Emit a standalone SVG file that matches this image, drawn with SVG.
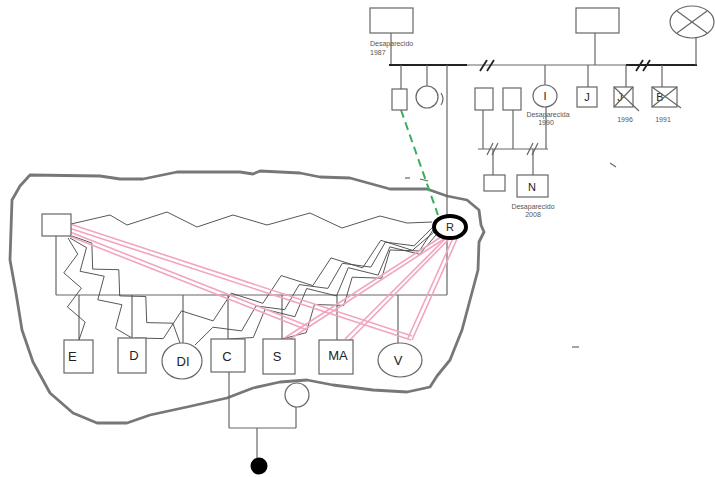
<svg xmlns="http://www.w3.org/2000/svg" width="715" height="477" viewBox="0 0 715 477">
<style>
.ln{stroke:#666;stroke-width:1.2;fill:none}
.bk{stroke:#222;stroke-width:1.8;fill:none}
.nd{stroke:#666;stroke-width:1.2;fill:#fff}
.zz{stroke:#444;stroke-width:0.9;fill:none;stroke-linejoin:miter}
.pk{stroke:#f2a5be;stroke-width:1.6;fill:none}
.sm{font-family:"Liberation Sans",Arial,sans-serif;font-size:7px;fill:#555}
.lb{font-family:"Liberation Sans",Arial,sans-serif;font-size:13px;fill:#222}
.lt{font-family:"Liberation Sans",Arial,sans-serif;font-size:11px;fill:#222}
.blob{stroke:#777;stroke-width:2.8;fill:none;stroke-linejoin:round}
</style>
<rect width="715" height="477" fill="#fff"/>

<!-- household outline -->
<path class="blob" d="M30 175 L100 176 L120 179 L143 179 L177 172 L240 172 L253 174 L260 171 L300 173 L320 177 L350 178 L390 189 L427 189 L447 196 L467 200 L479 210 L481 225 L484 232 L479 242 L478 270 L470 300 L462 330 L450 360 L437 376 L430 387 L407 392 L373 390 L333 385 L307 380 L280 382 L253 388 L227 398 L187 407 L150 415 L127 423 L97 423 L73 413 L50 393 L33 362 L22 330 L16 293 L10 260 L12 200 L20 186 Z"/>

<g id="connectors">
  <!-- top family -->
  <line class="ln" x1="391" y1="33" x2="391" y2="65"/>
  <line class="bk" x1="389" y1="65" x2="467" y2="65"/>
  <line class="ln" x1="467" y1="65" x2="626" y2="65"/>
  <line class="bk" x1="626" y1="65" x2="697" y2="65"/>
  <path class="bk" d="M480 71 L487 60 M487 71 L494 60"/>
  <path class="bk" d="M636 71 L643 60 M643 71 L650 60"/>
  <line class="ln" x1="401" y1="65" x2="401" y2="89"/>
  <line class="ln" x1="427" y1="65" x2="427" y2="87"/>
  <line class="ln" x1="447" y1="65" x2="447" y2="216"/>
  <line class="ln" x1="545" y1="65" x2="545" y2="85"/>
  <line class="ln" x1="595" y1="33" x2="595" y2="65"/>
  <line class="ln" x1="588" y1="65" x2="588" y2="87"/>
  <line class="ln" x1="626" y1="65" x2="626" y2="87"/>
  <line class="ln" x1="662" y1="65" x2="662" y2="87"/>
  <line class="ln" x1="696" y1="38" x2="696" y2="65"/>
  <!-- middle lower family -->
  <line class="ln" x1="483" y1="110" x2="483" y2="149"/>
  <line class="ln" x1="513" y1="110" x2="513" y2="149"/>
  <line class="ln" x1="546" y1="106" x2="546" y2="149"/>
  <line class="ln" x1="478" y1="149" x2="548" y2="149"/>
  <path class="ln" d="M487 155 L493 143 M492 155 L498 143"/>
  <path class="ln" d="M527 155 L533 143 M532 155 L538 143"/>
  <line class="ln" x1="493" y1="149" x2="493" y2="175"/>
  <line class="ln" x1="533" y1="149" x2="533" y2="175"/>
  <!-- green dashed -->
  <line x1="401" y1="110" x2="438" y2="215" stroke="#3aae5e" stroke-width="2" stroke-dasharray="8 5"/>
  <!-- household -->
  <line class="ln" x1="56" y1="236" x2="56" y2="295"/>
  <line class="ln" x1="56" y1="295" x2="447" y2="295"/>
  <line class="ln" x1="447" y1="238" x2="447" y2="295"/>
  <line class="ln" x1="79" y1="295" x2="79" y2="340"/>
  <line class="ln" x1="132" y1="295" x2="132" y2="338"/>
  <line class="ln" x1="183" y1="295" x2="183" y2="343"/>
  <line class="ln" x1="228" y1="295" x2="228" y2="339"/>
  <line class="ln" x1="282" y1="295" x2="282" y2="339"/>
  <line class="ln" x1="337" y1="295" x2="337" y2="340"/>
  <line class="ln" x1="398" y1="295" x2="398" y2="343"/>
  <!-- C family -->
  <line class="ln" x1="229" y1="372" x2="229" y2="428"/>
  <line class="ln" x1="229" y1="428" x2="296" y2="428"/>
  <line class="ln" x1="296" y1="407" x2="296" y2="428"/>
  <line class="ln" x1="257" y1="428" x2="257" y2="460"/>
  <!-- zigzag relations -->
  <polyline class="zz" points="71,224 110,215 127,225 167,212 197,227 233,215 267,225 310,213 342,228 380,216 407,223 432,222"/>
  <polyline class="zz" points="68,238 77.7,254.1 63.8,272.9 81.4,288.1 67.4,306.9 85.1,322.1 79,340"/>
  <polyline class="zz" points="70,238 86.5,247.6 80.1,271.3 104.2,276.2 97.8,299.8 121.9,304.7 115.5,328.4 132,338"/>
  <polyline class="zz" points="72,236 91.8,243 92.7,269.1 118.8,269.7 119.7,295.9 145.8,296.5 146.7,322.6 172.8,323.2 180,343"/>
  <polyline class="zz" points="436,235 419.7,254.3 389.9,246.9 378.1,275.1 348.3,267.7 336.5,295.9 306.7,288.5 294.9,316.7 265.1,309.3 253.3,337.5 228,339"/>
  <polyline class="zz" points="434,232 412.4,250.3 380.8,240.3 362.6,267.9 331,257.9 312.8,285.6 281.2,275.6 262.9,303.3 231.3,293.2 213.1,320.9 181.5,310.9 163.3,338.6 135,338"/>
  <polyline class="zz" points="433,230 419.4,250.9 390,250 381.7,278.2 352.2,277.2 343.9,305.4 314.5,304.5 306.2,332.7 282,339"/>
  <polyline class="zz" points="432,228 414,245.8 385.4,242.1 370.9,267.1 342.3,263.3 327.8,288.4 299.2,284.6 284.7,309.7 256.1,305.9 241.6,330.9 213,327.2 195,345"/>
  <!-- pink double lines -->
  <path class="pk" d="M70 224 L412 336 M69 228 L411 340"/>
  <path class="pk" d="M70 232 L308 326 M69 236 L307 330"/>
  <path class="pk" d="M441 237 L283 339 M444 239 L287 341"/>
  <path class="pk" d="M446 238 L345 339 M449 239 L349 341"/>
  <path class="pk" d="M453 238 L408 338 M457 239 L412 340"/>
  <!-- stray marks -->
  <path class="ln" d="M420 179 L428 181" stroke-width="2.5"/>
  <line class="ln" x1="405" y1="178" x2="410" y2="178"/>
  <line class="ln" x1="610" y1="163" x2="616" y2="167"/>
  <line class="ln" x1="572" y1="347" x2="579" y2="347"/>
</g>

<g id="n-gf1"><rect class="nd" x="370" y="8" width="43" height="25"/>
  <text class="sm" x="370" y="46">Desaparecido</text><text class="sm" x="370" y="55">1987</text></g>
<g id="n-sq1"><rect class="nd" x="392" y="89" width="15" height="21"/></g>
<g id="n-ci1"><circle class="nd" cx="427" cy="97" r="11"/><path class="ln" d="M441 93 Q445 99 441 105"/></g>
<g id="n-sq2"><rect class="nd" x="475" y="88" width="18" height="22"/></g>
<g id="n-sq3"><rect class="nd" x="503" y="88" width="18" height="22"/></g>
<g id="n-I"><ellipse class="nd" cx="545" cy="96" rx="12" ry="11"/><text class="lt" x="545" y="100" text-anchor="middle">I</text>
  <text class="sm" x="548" y="117" text-anchor="middle">Desaparecida</text><text class="sm" x="546" y="125" text-anchor="middle">1990</text></g>
<g id="n-gf2"><rect class="nd" x="576" y="8" width="43" height="25"/></g>
<g id="n-J"><rect class="nd" x="577" y="87" width="20" height="20"/><text class="lt" x="587" y="101" text-anchor="middle">J</text></g>
<g id="n-J2"><rect class="nd" x="614" y="87" width="19" height="20"/><text class="lt" x="620" y="101" text-anchor="middle">J</text>
  <line class="ln" x1="614" y1="87" x2="639" y2="111"/><line class="ln" x1="633" y1="87" x2="614" y2="107"/>
  <text class="sm" x="625" y="122" text-anchor="middle">1996</text></g>
<g id="n-B"><rect class="nd" x="652" y="87" width="25" height="20"/><text class="lt" x="660" y="101" text-anchor="middle">B</text>
  <line class="ln" x1="652" y1="87" x2="681" y2="108"/><line class="ln" x1="677" y1="87" x2="652" y2="107"/>
  <text class="sm" x="663" y="122" text-anchor="middle">1991</text></g>
<g id="n-gm2"><ellipse class="nd" cx="692" cy="22" rx="22" ry="16"/>
  <line class="ln" x1="677" y1="11" x2="707" y2="33"/><line class="ln" x1="707" y1="11" x2="677" y2="33"/></g>
<g id="n-s4"><rect class="nd" x="484" y="175" width="21" height="16"/></g>
<g id="n-N"><rect class="nd" x="517" y="175" width="31" height="22"/><text class="lt" x="532" y="191" text-anchor="middle">N</text>
  <text class="sm" x="533" y="209" text-anchor="middle">Desaparecido</text><text class="sm" x="533" y="217" text-anchor="middle">2008</text></g>

<g id="n-F"><rect class="nd" x="42" y="214" width="29" height="22"/></g>
<g id="n-R"><ellipse cx="450" cy="227" rx="16" ry="11" fill="#fff" stroke="#000" stroke-width="4"/><text class="lt" x="450" y="231" text-anchor="middle">R</text></g>

<g id="n-E"><rect class="nd" x="64" y="340" width="29" height="33"/><text class="lb" x="68" y="361">E</text></g>
<g id="n-D"><rect class="nd" x="118" y="338" width="28" height="35"/><text class="lb" x="134" y="360" text-anchor="middle">D</text></g>
<g id="n-DI"><ellipse class="nd" cx="182" cy="361" rx="20" ry="18"/><text class="lb" x="183" y="366" text-anchor="middle">DI</text></g>
<g id="n-C"><rect class="nd" x="211" y="339" width="34" height="33"/><text class="lb" x="227" y="361" text-anchor="middle">C</text></g>
<g id="n-S"><rect class="nd" x="263" y="339" width="32" height="35"/><text class="lb" x="277" y="361" text-anchor="middle">S</text></g>
<g id="n-MA"><rect class="nd" x="319" y="340" width="34" height="34"/><text class="lb" x="338" y="360" text-anchor="middle">MA</text></g>
<g id="n-V"><ellipse class="nd" cx="400" cy="360" rx="22" ry="17"/><text class="lb" x="398" y="365" text-anchor="middle">V</text></g>
<g id="n-Cw"><circle class="nd" cx="297" cy="395" r="12"/></g>
<g id="n-child"><circle cx="259" cy="466" r="8.5" fill="#000"/></g>
</svg>
